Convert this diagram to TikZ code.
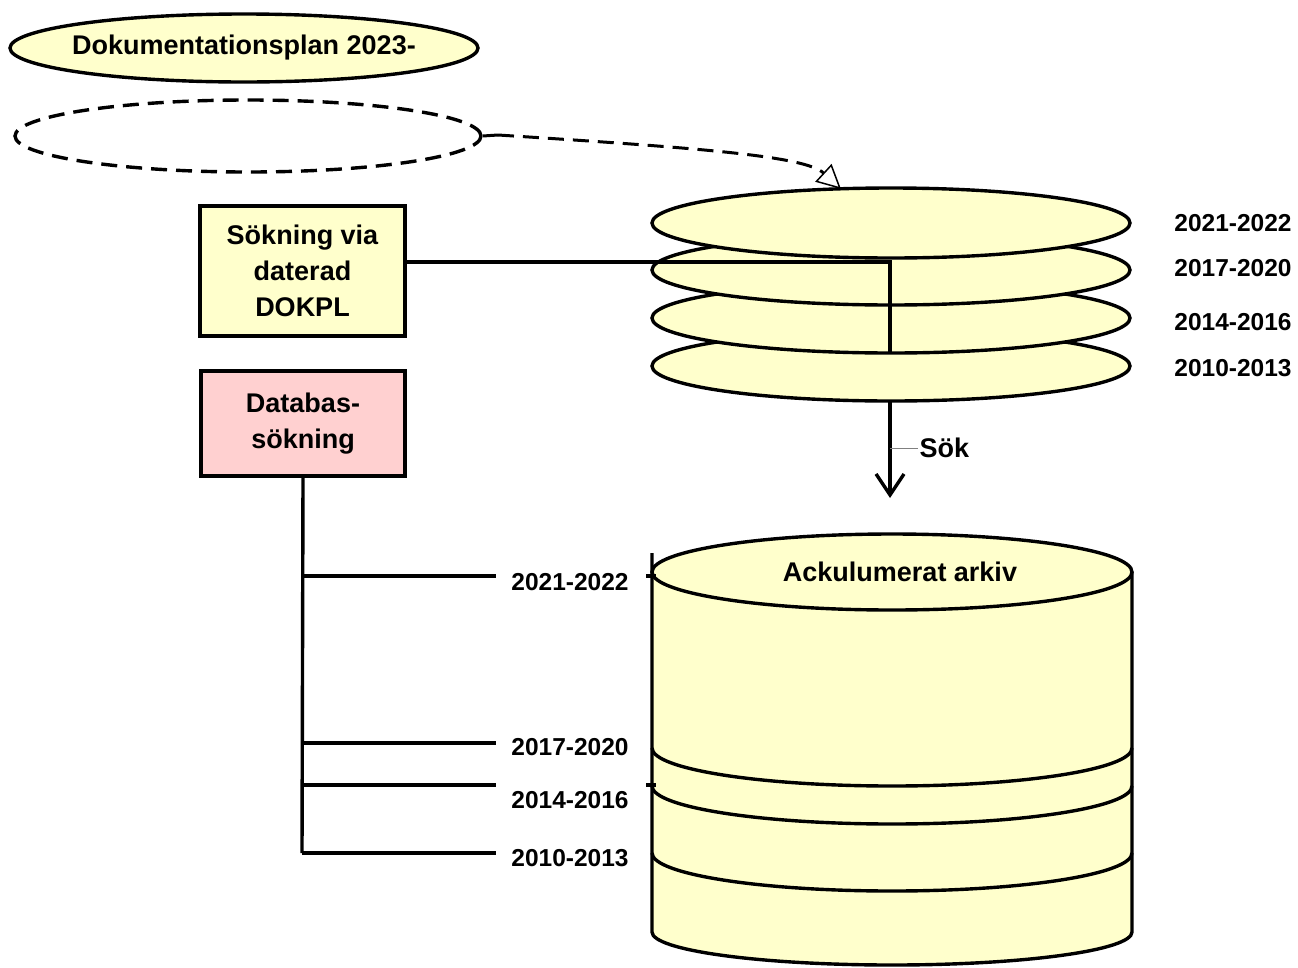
\documentclass[tikz,border=0pt]{standalone}
\usepackage{fontspec}
\setmainfont{Liberation Sans}
\usetikzlibrary{arrows.meta,shapes.geometric}
\definecolor{yel}{RGB}{255,255,204}
\definecolor{pnk}{RGB}{255,208,208}
\begin{document}
\begin{tikzpicture}[x=1pt,y=-1pt,line width=3.4pt,
  big/.style={font=\fontsize{27}{36}\selectfont\bfseries},
  yr/.style={font=\fontsize{24.5}{28}\selectfont\bfseries,inner ysep=0pt,inner xsep=14pt},
  disk/.style={ellipse,draw,fill=yel,inner sep=0pt,minimum width=478pt,minimum height=70pt},
  boxnode/.style={draw,big,align=center,inner sep=0pt}]
\useasboundingbox[fill=white] (0,0) rectangle (1298,967);

% title ellipse
\node[ellipse,draw,fill=yel,inner sep=0pt,minimum width=468pt,minimum height=68pt] (plan) at (244,48) {};
\node[big] (plantxt) at (plan) {Dokumentationsplan 2023-};

% dashed ellipse
\node[ellipse,draw,dash pattern=on 16pt off 9pt,inner sep=0pt,minimum width=466pt,minimum height=72pt] (dash) at (248,136) {};

% stack of disks
\node[disk] (s4) at (891,366) {};
\node[disk] (s3) at (891,318) {};
\node[disk] (s2) at (891,270) {};
\node[disk] (s1) at (891,223) {};

\node[yr] (r1) at (1233,223) {2021-2022};
\node[yr] (r2) at (1233,268) {2017-2020};
\node[yr] (r3) at (1233,322) {2014-2016};
\node[yr] (r4) at (1233,368) {2010-2013};

% dashed arrow
\coordinate (t1) at (498,135);
\coordinate (tip) at (841,189);
\draw[line width=3pt] (dash.east) -- (t1);
\draw[line width=3pt,dash pattern=on 16pt off 9pt,
  -{Triangle[open,length=24pt,width=24pt,line width=1.5pt,fill=white]}]
  (t1) .. controls (700,148) and (805,156) .. (tip);

% boxes
\node[boxnode,fill=yel,minimum width=205pt,minimum height=130pt] (dokpl) at (302.5,271) {Sökning via\\daterad\\DOKPL};
\node[boxnode,fill=pnk,minimum width=204pt,minimum height=105pt] (db) at (303,423.5) {Databas-\\sökning};

% DOKPL connector
\coordinate (hl) at (890,262);
\coordinate (vl) at (890,353);
\draw (dokpl.east |- hl) -- (hl) -- (vl);

% Sök arrow
\coordinate (sokend) at (890,498);
\draw[-{Straight Barb[length=21pt,width=28pt]}] (890,401) -- (sokend);
\node[big,anchor=west,inner sep=0pt] (sok) at (918,448) {Sök};
\draw[line width=1pt,gray] (890,448) -- (sok.west);

% cylinder
\fill[yel] (652,572) -- (652,932) arc[start angle=180,end angle=360,x radius=240pt,y radius=33pt] -- (1132,572) -- cycle;
\node[ellipse,draw,fill=yel,inner sep=0pt,minimum width=480pt,minimum height=76pt] (cyltop) at (892,572) {};
\draw (652,553) -- (652,932) arc[start angle=180,end angle=360,x radius=240pt,y radius=33pt] -- (1132,572);
\draw (652,748) arc[start angle=180,end angle=360,x radius=240pt,y radius=38pt];
\draw (652,786) arc[start angle=180,end angle=360,x radius=240pt,y radius=38pt];
\draw (652,853) arc[start angle=180,end angle=360,x radius=240pt,y radius=38pt];
\node[big] (arkiv) at (900,572) {Ackulumerat arkiv};
\draw (646,576) -- (656,576);
\draw (646,785) -- (656,785);

% database branches
\coordinate (b1) at (302,576);
\coordinate (b2) at (302,743);
\coordinate (b3) at (302,785);
\coordinate (b4) at (302,853);
\node[yr] (l1) at (570,582) {2021-2022};
\node[yr] (l2) at (570,747) {2017-2020};
\node[yr] (l3) at (570,800) {2014-2016};
\node[yr] (l4) at (570,858) {2010-2013};
\draw (db.south) -- (b4);
\draw (b1) -- (b1 -| l1.west);
\draw (b2) -- (b2 -| l2.west);
\draw (b3) -- (b3 -| l3.west);
\draw (b4) -- (b4 -| l4.west);
\end{tikzpicture}
\end{document}
